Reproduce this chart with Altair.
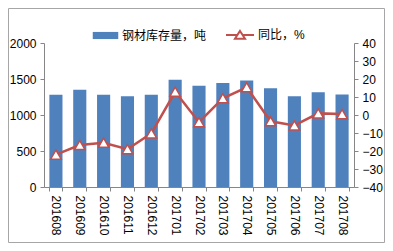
import altair as alt
import pandas as pd

months = ["201608", "201609", "201610", "201611", "201612", "201701", "201702",
          "201703", "201704", "201705", "201706", "201707", "201708"]
stock = [1280, 1350, 1280, 1260, 1280, 1490, 1405, 1445, 1480, 1370, 1260, 1315, 1285]
yoy = [-22.0, -16.7, -15.4, -19.0, -10.2, 12.9, -4.0, 9.3, 15.4, -3.5, -5.8, 0.9, 0.5]
bar_name = "钢材库存量，吨"
line_name = "同比，%"

df = pd.DataFrame({"month": months, "stock": stock, "yoy": yoy,
                   "s1": bar_name, "s2": line_name})

FONT = "Liberation Sans, Arial, Noto Sans CJK SC"
BLUE = "#4F81BD"
RED = "#C0504D"
AXIS_GRAY = "#868686"

W, H = 310, 144
PL, PT, PR, PB = 36, 35, 31, 56

xenc = alt.X("month:N", sort=months, title=None,
             scale=alt.Scale(paddingInner=0.45, paddingOuter=0.225),
             axis=alt.Axis(labelAngle=90, labelAlign="left", labelBaseline="middle",
                           labelFontSize=12, labelFont=FONT, labelColor="#000",
                           tickBand="extent", tickSize=4, labelPadding=4,
                           domainColor=AXIS_GRAY, tickColor=AXIS_GRAY, grid=False))

bars = alt.Chart(df).mark_bar().encode(
    x=xenc,
    y=alt.Y("stock:Q", title=None,
            scale=alt.Scale(domain=[0, 2000], nice=False),
            axis=alt.Axis(orient="left", values=[0, 500, 1000, 1500, 2000], format="d",
                          labelFontSize=12, labelFont=FONT, labelColor="#000",
                          tickSize=4, labelPadding=4, grid=False,
                          domainColor=AXIS_GRAY, tickColor=AXIS_GRAY)),
    color=alt.Color("s1:N", scale=alt.Scale(range=[BLUE]),
                    legend=alt.Legend(title=None, orient="none", legendX=48, legendY=-21,
                                      symbolType="M-1,-0.28L1,-0.28L1,0.28L-1,0.28Z",
                                      symbolSize=650, labelOffset=3, padding=0,
                                      labelFontSize=12, labelFont=FONT, labelColor="#000")),
)

yaxis_right = alt.Axis(orient="right", values=list(range(-40, 41, 10)), format="d",
                       labelFontSize=12, labelFont=FONT, labelColor="#000",
                       tickSize=4, labelPadding=4, grid=False,
                       domainColor=AXIS_GRAY, tickColor=AXIS_GRAY)
yscale_right = alt.Scale(domain=[-40, 40], nice=False)

line = alt.Chart(df).mark_line(strokeWidth=2.5).encode(
    x=alt.X("month:N", sort=months),
    y=alt.Y("yoy:Q", title=None, scale=yscale_right, axis=yaxis_right),
    stroke=alt.Stroke("s2:N", scale=alt.Scale(range=[RED]),
                      legend=alt.Legend(title=None, orient="none", legendX=181, legendY=-23,
                                        symbolType="M-1,0L-0.19,0M0.19,0L1,0M0,-0.29L0.36,0.27L-0.36,0.27Z",
                                        symbolSize=784, symbolFillColor="white",
                                        symbolStrokeWidth=2, labelOffset=3, padding=0,
                                        labelFontSize=12, labelFont=FONT, labelColor="#000")),
)

points = alt.Chart(df).mark_point(shape="triangle-up", filled=True, fill="white",
                                  stroke=RED, strokeWidth=1.5, size=110, opacity=1).encode(
    x=alt.X("month:N", sort=months),
    y=alt.Y("yoy:Q", title=None, scale=yscale_right, axis=yaxis_right),
)

border = alt.Chart(alt.Data(values=[{"a": 1}])).mark_rect(
    fill="transparent", stroke="#A6A6A6", strokeWidth=1).encode(
    x=alt.value(-PL + 0.5), x2=alt.value(W + PR - 0.5),
    y=alt.value(-PT + 0.5), y2=alt.value(H + PB - 0.5))

chart = alt.layer(
    bars, alt.layer(line, points), border
).resolve_scale(y="independent").properties(
    width=W, height=H,
    padding={"left": PL, "top": PT, "right": PR, "bottom": PB},
    autosize=alt.AutoSizeParams(type="none"),
).configure_view(stroke=None)

chart.save("out.html", embed_options={"renderer": "svg", "actions": False})
